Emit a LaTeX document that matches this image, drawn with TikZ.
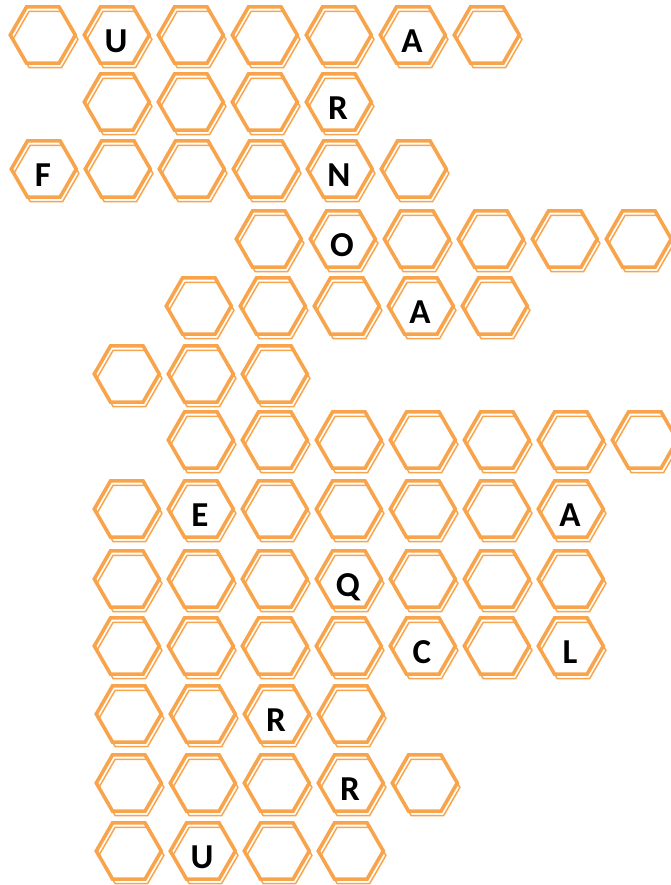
\documentclass[tikz,border=0pt]{standalone}
\usepackage{fontspec}
\setmainfont{Carlito}
\definecolor{hexorange}{RGB}{248,164,76}
\tikzset{
  hexthick/.style={draw=hexorange, line width=3.6pt},
  hexthin/.style={draw=hexorange, line width=1.5pt},
  letter/.style={font=\fontsize{35}{35}\selectfont\bfseries, text=black, anchor=base, inner sep=0pt},
  hexcell/.pic={
    \draw[hexthick, shift={(-1.2pt,2pt)}] (0:32.5pt) -- (60:32.5pt) -- (120:32.5pt) -- (180:32.5pt) -- (240:32.5pt) -- (300:32.5pt) -- cycle;
    \draw[hexthin, shift={(1.4pt,-2.4pt)}] (0:32.5pt) -- (60:32.5pt) -- (120:32.5pt) -- (180:32.5pt) -- (240:32.5pt) -- (300:32.5pt) -- cycle;
  }
}
\begin{document}
\begin{tikzpicture}[x=1pt,y=1pt]
\useasboundingbox (0,0) rectangle (671,-885);
\clip (0,0) rectangle (671,-885);
% rows: start x, centre y, count
\foreach \sx/\cy/\n in {44/37/7, 118/104/4, 45/171/6, 270/241/6, 200/308/5, 128/376/3, 202/442/7, 128/511/7, 128/581/7, 128/648/7, 130/716/4, 130/785/5, 130/853/4}{
  \foreach \i in {1,...,\n}{
    \pic at ({\sx+74*(\i-1)},{-\cy}) {hexcell};
  }
}
% letters: hex centre x, hex centre y
\foreach \nm/\lx/\ly/\t in {l1/118/37/U, l2/414/37/A, l3/340/104/R, l4/45/171/F, l5/341/171/N, l6/344/241/O, l7/422/308/A, l8/202/511/E, l9/572/511/A, l10/350/581/Q, l11/424/648/C, l12/572/648/L, l13/278/716/R, l14/352/785/R, l15/204/853/U}{
  \node[letter] (\nm) at ({\lx-2},{-\ly-15.5}) {\t};
}
\end{tikzpicture}
\end{document}
